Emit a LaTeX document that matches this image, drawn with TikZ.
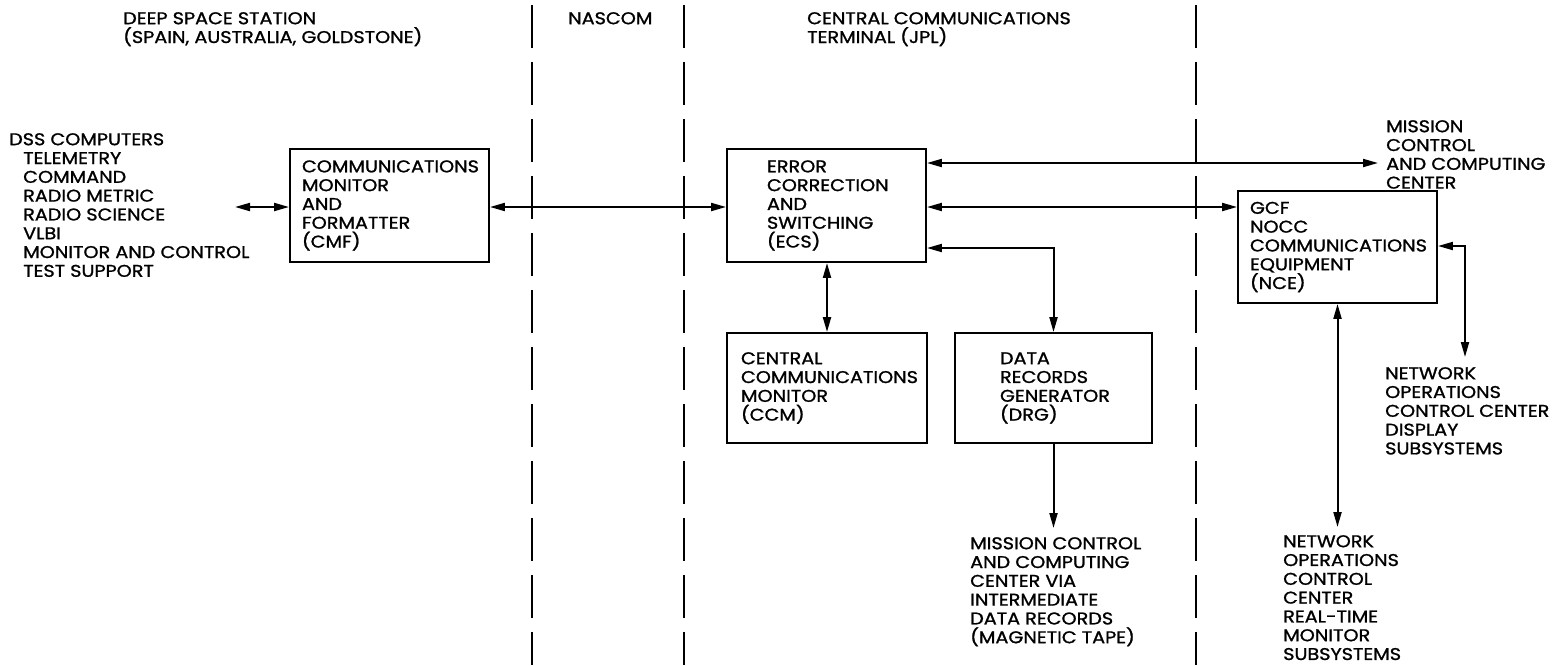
\documentclass[tikz,border=0pt]{standalone}
\usepackage{fontspec}
\setmainfont{Poppins}[FakeStretch=1.13,FakeBold=1.2]
\usetikzlibrary{arrows.meta}
\begin{document}
\begin{tikzpicture}[x=1pt,y=-1pt,
  txt/.style={font=\fontsize{17}{18.8}\selectfont},
  lbl/.style={txt,inner sep=0pt,anchor=north west,align=flush left},
  blk/.style={txt,draw,line width=1.9pt,align=flush left,inner ysep=0pt},
  conn/.style={line width=2pt},
  twoway/.style={{Triangle[length=15pt,width=8pt]}-{Triangle[length=15pt,width=8pt]}},
  oneway/.style={-{Triangle[length=15pt,width=8pt]}},
  sepline/.style={line width=2.4pt,dash pattern=on 43pt off 14pt}]
\useasboundingbox (0,0) rectangle (1554,665);
\fill[white] (0,0) rectangle (1554,665);

% region separators
\draw[sepline] (532,5) -- (532,665);
\draw[sepline] (684,5) -- (684,665);
\draw[sepline] (1196,5) -- (1196,665);

% headings
\node[lbl] (dsshead) at (123,12) {DEEP SPACE STATION\\(SPAIN, AUSTRALIA, GOLDSTONE)};
\node[lbl] (nascom) at (568,12) {NASCOM};
\node[lbl] (cct) at (807,12) {CENTRAL COMMUNICATIONS\\TERMINAL (JPL)};

% external texts
\node[lbl] (dss) at (9,133) {DSS COMPUTERS\\\hspace*{14pt}TELEMETRY\\\hspace*{14pt}COMMAND\\\hspace*{14pt}RADIO METRIC\\\hspace*{14pt}RADIO SCIENCE\\\hspace*{14pt}VLBI\\\hspace*{14pt}MONITOR AND CONTROL\\\hspace*{14pt}TEST SUPPORT};
\node[lbl] (mccc) at (1386,120) {MISSION\\CONTROL\\AND COMPUTING\\CENTER};
\node[lbl] (idr) at (970,537) {MISSION CONTROL\\AND COMPUTING\\CENTER VIA\\INTERMEDIATE\\DATA RECORDS\\(MAGNETIC TAPE)};
\node[lbl] (nocd) at (1385,367) {NETWORK\\OPERATIONS\\CONTROL CENTER\\DISPLAY\\SUBSYSTEMS};
\node[lbl] (nocr) at (1283,535) {NETWORK\\OPERATIONS\\CONTROL\\CENTER\\REAL-TIME\\MONITOR\\SUBSYSTEMS};

% boxes
\node[blk,text width=175pt,inner xsep=12pt,minimum height=113pt] (cmf) at (389.5,205.5) {COMMUNICATIONS\\MONITOR\\AND\\FORMATTER\\(CMF)};
\node[blk,text width=119pt,inner xsep=40pt,minimum height=113pt] (ecs) at (826.5,205.5) {ERROR\\CORRECTION\\AND\\SWITCHING\\(ECS)};
\node[blk,text width=172pt,inner xsep=14pt,minimum height=110pt] (ccm) at (827,388) {CENTRAL\\COMMUNICATIONS\\MONITOR\\(CCM)};
\node[blk,text width=107pt,inner xsep=45pt,minimum height=110pt] (drg) at (1053.5,388) {DATA\\RECORDS\\GENERATOR\\(DRG)};
\node[blk,text width=175pt,inner xsep=12pt,minimum height=112pt] (nce) at (1337.5,247) {GCF\\NOCC\\COMMUNICATIONS\\EQUIPMENT\\(NCE)};

% helper coordinates
\coordinate (rowa) at (0,163);
\coordinate (rowb) at (0,207);
\coordinate (rowc) at (0,248);
\coordinate (rowd) at (0,246);
\coordinate (dssend) at (235,207);
\coordinate (mcctip) at (1378,163);
\coordinate (idrtip) at (1053.5,528);
\coordinate (nocrtip) at (1337.5,527);
\coordinate (nocdtip) at (1465,357);

% connectors
\draw[conn,twoway] (dssend) -- (dssend -| cmf.west);
\draw[conn,twoway] (cmf.east |- rowb) -- (ecs.west |- rowb);
\draw[conn,twoway] (ecs.east |- rowa) -- (mcctip);
\draw[conn,twoway] (ecs.east |- rowb) -- (nce.west |- rowb);
\draw[conn,twoway] (ecs.east |- rowc) -| (drg.north);
\draw[conn,twoway] (ccm.north |- ecs.south) -- (ccm.north);
\draw[conn,oneway] (drg.south) -- (idrtip);
\draw[conn,twoway] (nce.south) -- (nocrtip);
\draw[conn,twoway] (nce.east |- rowd) -| (nocdtip);
\end{tikzpicture}
\end{document}
